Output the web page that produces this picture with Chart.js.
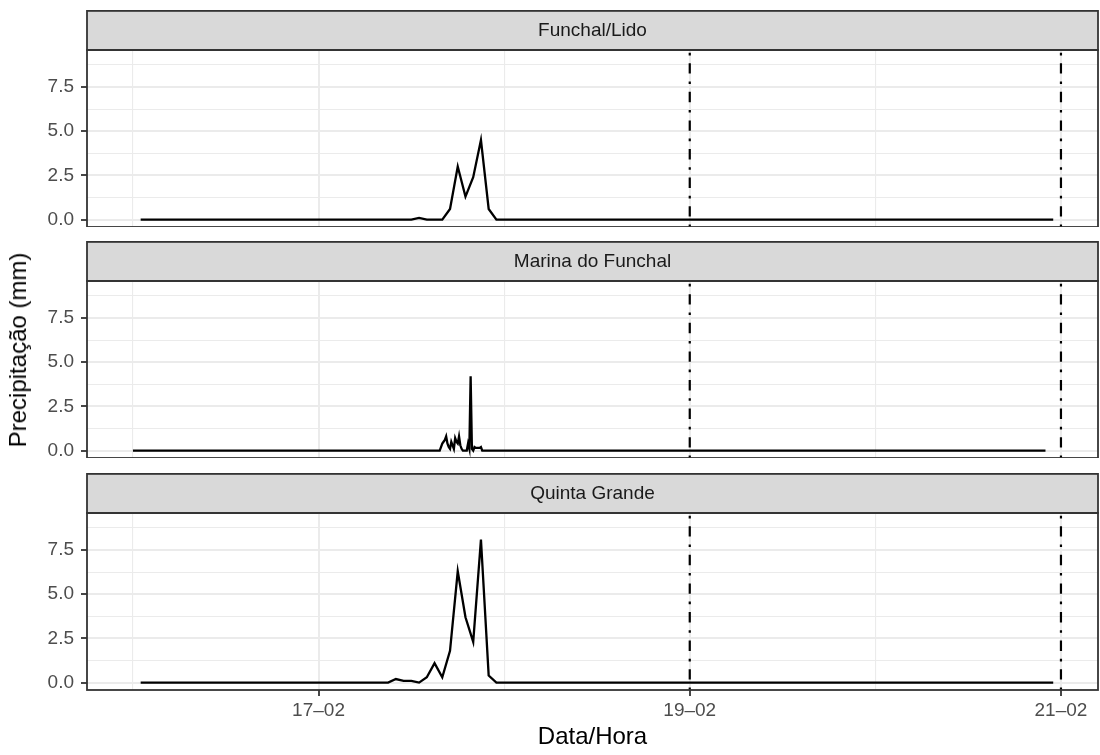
<!DOCTYPE html>
<html>
<head>
<meta charset="utf-8">
<script src="https://cdn.jsdelivr.net/npm/chart.js@4.4.0/dist/chart.umd.min.js"></script>
<style>
  body { margin: 0; background: #fff; }
  #wrap { position: relative; width: 1100px; height: 755px; font-family: "Liberation Sans", Arial, sans-serif; }
  #wrap canvas { position: absolute; left: 0; }
  #ytitle {
    position: absolute; left: 18px; top: 350px;
    transform: translate(-50%, -50%) rotate(-90deg);
    font-size: 24px; white-space: nowrap; color: #000;
  }
</style>
</head>
<body>
<div id="wrap">
  <canvas id="p0" width="1100" height="217" style="top:10px"></canvas>
  <canvas id="p1" width="1100" height="217" style="top:241px"></canvas>
  <canvas id="p2" width="1100" height="282" style="top:473px"></canvas>
  <div id="ytitle">Precipitação (mm)</div>
</div>
<script>
// estações (facetas)
const stations = ["Funchal/Lido", "Marina do Funchal", "Quinta Grande"];

// Funchal/Lido - dados horários (resto do período = 0)
const lidoTimes = ["16-02 01:00", "17-02 12:00", "17-02 13:00", "17-02 14:00", "17-02 16:00",
  "17-02 17:00", "17-02 18:00", "17-02 19:00", "17-02 20:00", "17-02 21:00", "17-02 22:00",
  "17-02 23:00", "20-02 23:00"];
const lidoValues = [0, 0, 0.1, 0, 0, 0.6, 3.0, 1.3, 2.4, 4.5, 0.6, 0, 0];

// Marina do Funchal - dados de 10 em 10 minutos
const marinaTimes = ["16-02 00:00", "17-02 15:40", "17-02 15:50", "17-02 16:00", "17-02 16:10",
  "17-02 16:20", "17-02 16:30", "17-02 16:40", "17-02 16:50", "17-02 17:00", "17-02 17:10",
  "17-02 17:20", "17-02 17:30", "17-02 17:40", "17-02 17:50", "17-02 18:00", "17-02 18:10",
  "17-02 18:20", "17-02 18:30", "17-02 18:40", "17-02 19:10", "17-02 19:20", "17-02 19:30",
  "17-02 19:40", "17-02 19:50", "17-02 20:00", "17-02 20:10", "17-02 20:20", "17-02 20:30",
  "17-02 20:40", "17-02 20:50", "17-02 21:00", "17-02 21:10", "20-02 22:00"];
const marinaValues = [0, 0, 0.2, 0.4, 0.5, 0.6, 0.8, 0.4, 0.2, 0.1, 0.5,
  0.3, 0.1, 0.7, 0.5, 0.4, 0.8,
  0.3, 0.1, 0, 0, 0.4, 0.1,
  4.2, 0.1, 0, 0.2, 0.15, 0.15,
  0.15, 0.15, 0.2, 0, 0];

// Quinta Grande - dados horários
const quintaTimes = ["16-02 01:00", "17-02 09:00", "17-02 10:00", "17-02 11:00", "17-02 12:00",
  "17-02 13:00", "17-02 14:00", "17-02 15:00", "17-02 16:00", "17-02 17:00", "17-02 18:00",
  "17-02 19:00", "17-02 20:00", "17-02 21:00", "17-02 22:00", "17-02 23:00", "20-02 23:00"];
const quintaValues = [0, 0, 0.2, 0.1, 0.1, 0, 0.3, 1.1, 0.3, 1.8, 6.3, 3.7, 2.3, 8.1, 0.4, 0, 0];

// linhas verticais (traço-ponto)
const vlineTimes = ["19-02 00:00", "21-02 00:00"];

// eixos
const xMajorTimes = ["17-02 00:00", "19-02 00:00", "21-02 00:00"];
const xTickLabels = ["17–02", "19–02", "21–02"];
const xMinorTimes = ["16-02 00:00", "18-02 00:00", "20-02 00:00"];
const yTickValues = [0, 2.5, 5, 7.5];
const yTickLabels = ["0.0", "2.5", "5.0", "7.5"];
const yMinorValues = [1.25, 3.75, 6.25, 8.75];

// horas desde 16-02 00:00
function toHours(s) {
  const [d, t] = s.split(" ");
  const [dd] = d.split("-").map(Number);
  const [hh, mi] = t.split(":").map(Number);
  return (dd - 16) * 24 + hh + mi / 60;
}

const xMajor = xMajorTimes.map(toHours);
const xMinor = xMinorTimes.map(toHours);
const X_MIN = -5.94, X_MAX = 124.79;
const Y_MIN = -0.42, Y_MAX = 9.6;
const STRIP_H = 40;
const FONT = "'Liberation Sans', Arial, sans-serif";

const series = [
  { times: lidoTimes, values: lidoValues },
  { times: marinaTimes, values: marinaValues },
  { times: quintaTimes, values: quintaValues },
];

const isClose = (list, v) => list.some(m => Math.abs(m - v) < 1e-6);

// faixa cinzenta + moldura do painel + linhas verticais
const panelPlugin = {
  id: "panel",
  afterDatasetsDraw(chart) {
    const { ctx, chartArea: a, scales } = chart;
    ctx.save();
    ctx.beginPath();
    ctx.rect(a.left, a.top, a.right - a.left, a.bottom - a.top);
    ctx.clip();
    ctx.strokeStyle = "#000";
    ctx.lineWidth = 2.2;
    ctx.setLineDash([2.6, 7.8, 10.4, 7.8]);
    vlineTimes.forEach(t => {
      const x = scales.x.getPixelForValue(toHours(t));
      ctx.beginPath();
      ctx.moveTo(x, a.bottom);
      ctx.lineTo(x, a.top);
      ctx.stroke();
    });
    ctx.restore();
  },
  afterDraw(chart) {
    const { ctx, chartArea: a } = chart;
    const title = chart.options.plugins.panel.title;
    ctx.save();
    ctx.lineWidth = 1.8;
    ctx.strokeStyle = "#333333";
    ctx.fillStyle = "#D9D9D9";
    ctx.fillRect(a.left, a.top - STRIP_H, a.right - a.left, STRIP_H);
    ctx.strokeRect(a.left, a.top - STRIP_H + 0.9, a.right - a.left, STRIP_H - 0.9);
    ctx.strokeRect(a.left, a.top, a.right - a.left, a.bottom - a.top);
    ctx.fillStyle = "#1A1A1A";
    ctx.font = "19px " + FONT;
    ctx.textAlign = "center";
    ctx.textBaseline = "middle";
    ctx.fillText(title, (a.left + a.right) / 2, a.top - STRIP_H / 2 + 1);
    ctx.restore();
  }
};

series.forEach((s, i) => {
  const last = i === series.length - 1;
  const ctx = document.getElementById("p" + i).getContext("2d");
  new Chart(ctx, {
    type: "line",
    data: {
      datasets: [{
        data: s.times.map((t, k) => ({ x: toHours(t), y: s.values[k] })),
        borderColor: "#000",
        borderWidth: 2.3,
        pointRadius: 0,
        tension: 0,
        fill: false,
      }],
    },
    options: {
      responsive: false,
      animation: false,
      devicePixelRatio: 1,
      layout: { padding: { top: STRIP_H, left: 0, right: 2, bottom: 0 } },
      plugins: {
        legend: { display: false },
        tooltip: { enabled: false },
        panel: { title: stations[i] },
      },
      scales: {
        x: {
          type: "linear",
          min: X_MIN,
          max: X_MAX,
          afterBuildTicks: (sc) => {
            sc.ticks = xMinor.concat(xMajor).sort((a, b) => a - b).map(v => ({ value: v }));
          },
          afterFit: (sc) => {
            sc.height = last ? 65 : 0;
            sc.paddingLeft = 0; sc.paddingRight = 0;
          },
          border: { display: false },
          grid: {
            drawTicks: last,
            tickLength: 6,
            tickWidth: 1.8,
            tickColor: (c) => isClose(xMajor, c.tick.value) ? "#333333" : "rgba(0,0,0,0)",
            color: "#EBEBEB",
            lineWidth: (c) => isClose(xMajor, c.tick.value) ? 2 : 1.1,
          },
          ticks: {
            display: last,
            autoSkip: false,
            maxRotation: 0,
            padding: 3,
            color: "#4D4D4D",
            font: { family: FONT, size: 19 },
            callback: (v) => {
              const k = xMajor.findIndex(m => Math.abs(m - v) < 1e-6);
              return k >= 0 ? xTickLabels[k] : "";
            },
          },
          title: {
            display: last,
            text: "Data/Hora",
            color: "#000",
            font: { family: FONT, size: 24 },
            padding: { top: 0, bottom: 3 },
          },
        },
        y: {
          type: "linear",
          min: Y_MIN,
          max: Y_MAX,
          afterBuildTicks: (sc) => {
            sc.ticks = yTickValues.concat(yMinorValues).sort((a, b) => a - b).map(v => ({ value: v }));
          },
          afterFit: (sc) => {
            sc.width = 87;
            sc.paddingTop = 0; sc.paddingBottom = 0;
          },
          border: { display: false },
          grid: {
            tickLength: 6,
            tickWidth: 1.8,
            tickColor: (c) => isClose(yTickValues, c.tick.value) ? "#333333" : "rgba(0,0,0,0)",
            color: "#EBEBEB",
            lineWidth: (c) => isClose(yTickValues, c.tick.value) ? 2 : 1.1,
          },
          ticks: {
            autoSkip: false,
            padding: 7,
            color: "#4D4D4D",
            font: { family: FONT, size: 19 },
            callback: (v) => {
              const k = yTickValues.findIndex(m => Math.abs(m - v) < 1e-6);
              return k >= 0 ? yTickLabels[k] : "";
            },
          },
        },
      },
    },
    plugins: [panelPlugin],
  });
});
</script>
</body>
</html>
